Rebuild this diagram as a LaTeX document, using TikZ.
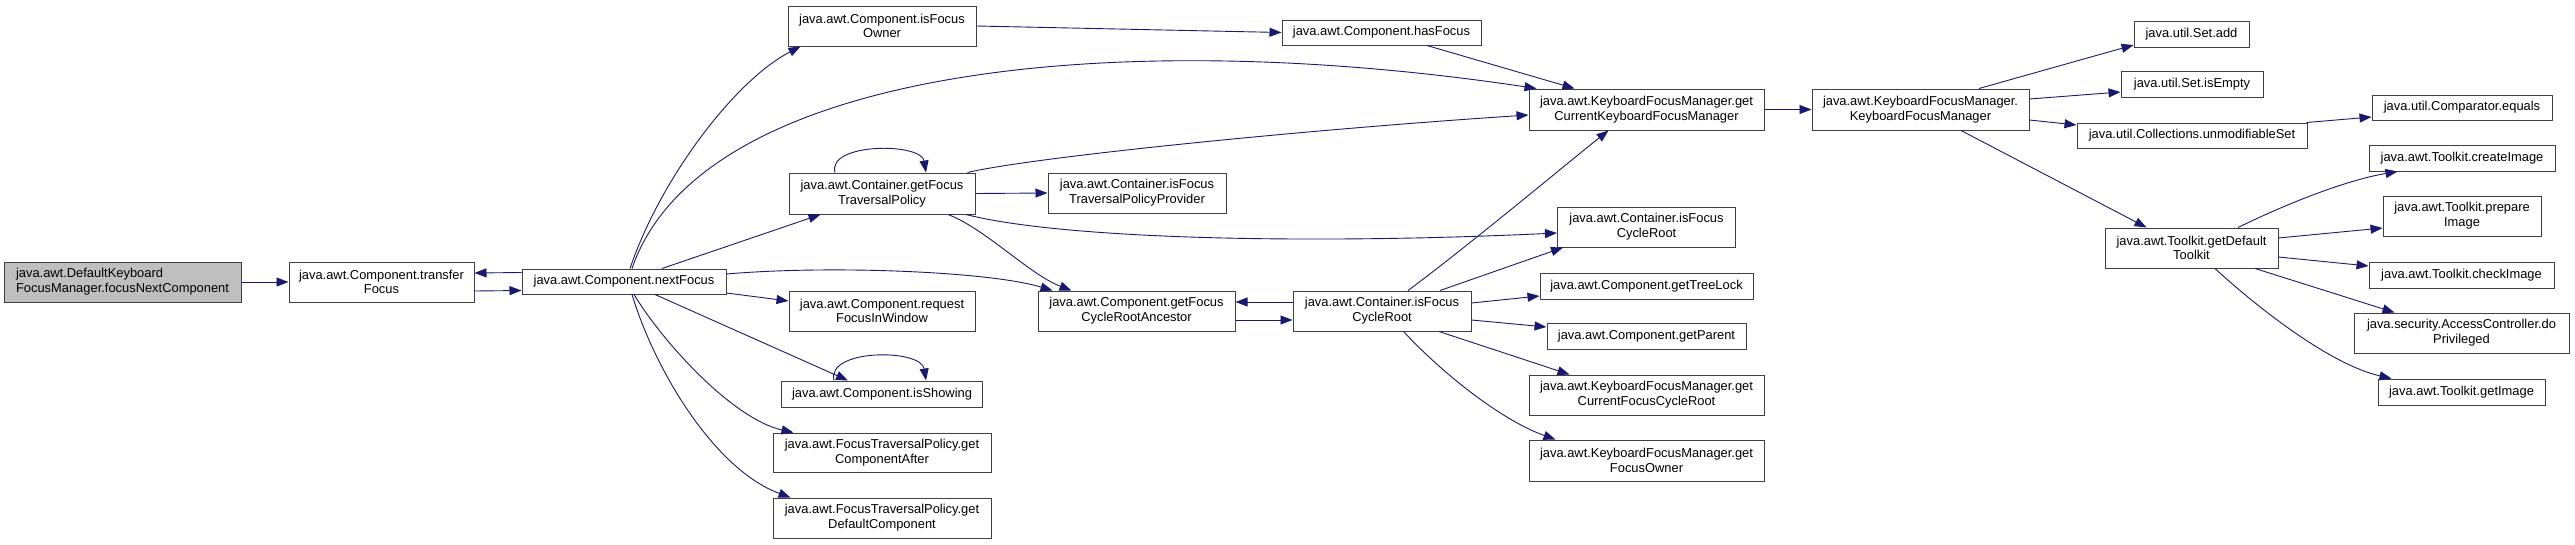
\documentclass[tikz,border=0pt]{standalone}
\usepackage{fontspec}
\setmainfont{Liberation Sans}
\usetikzlibrary{arrows.meta}
\definecolor{edgeblue}{HTML}{191970}
\definecolor{boxgray}{HTML}{404040}
\definecolor{rootfill}{HTML}{BFBFBF}
\begin{document}
\begin{tikzpicture}[x=1pt,y=-1pt,
  fn/.style={draw=boxgray,fill=white,line width=1pt,inner sep=0pt,align=center,
    font=\fontsize{12.9}{14.7}\selectfont},
  root/.style={fn,fill=rootfill,align=left},
  call/.style={draw=edgeblue,line width=0.9pt,-{Triangle[length=12pt,width=9pt]}}]
\useasboundingbox (0,0) rectangle (2575,544);
\node[root,minimum width=237,minimum height=40] (focusNext) at (122.5,282) {java.awt.DefaultKeyboard\\FocusManager.focusNextComponent};
\node[fn,minimum width=185,minimum height=40] (transferFocus) at (381.5,282) {java.awt.Component.transfer\\Focus};
\node[fn,minimum width=204,minimum height=25] (nextFocus) at (624,281.5) {java.awt.Component.nextFocus};
\node[fn,minimum width=188,minimum height=40] (isFocusOwner) at (882,26) {java.awt.Component.isFocus\\Owner};
\node[fn,minimum width=186,minimum height=41] (getTravPolicy) at (882,193.5) {java.awt.Container.getFocus\\TraversalPolicy};
\node[fn,minimum width=186,minimum height=40] (requestFocus) at (882,311) {java.awt.Component.request\\FocusInWindow};
\node[fn,minimum width=201,minimum height=26] (isShowing) at (882,394) {java.awt.Component.isShowing};
\node[fn,minimum width=218,minimum height=39] (getCompAfter) at (882,452.5) {java.awt.FocusTraversalPolicy.get\\ComponentAfter};
\node[fn,minimum width=218,minimum height=40] (getDefaultComp) at (882,518) {java.awt.FocusTraversalPolicy.get\\DefaultComponent};
\node[fn,minimum width=199,minimum height=25] (hasFocus) at (1381.5,32.5) {java.awt.Component.hasFocus};
\node[fn,minimum width=178,minimum height=40] (isTravProvider) at (1137,193) {java.awt.Container.isFocus\\TraversalPolicyProvider};
\node[fn,minimum width=197,minimum height=40] (getRootAncestor) at (1136.5,311) {java.awt.Component.getFocus\\CycleRootAncestor};
\node[fn,minimum width=178,minimum height=40] (isCycleRoot) at (1382,311) {java.awt.Container.isFocus\\CycleRoot};
\node[fn,minimum width=235,minimum height=41] (getCurrentKFM) at (1646.5,109.5) {java.awt.KeyboardFocusManager.get\\CurrentKeyboardFocusManager};
\node[fn,minimum width=178,minimum height=40] (isCycleRootB) at (1646.5,227) {java.awt.Container.isFocus\\CycleRoot};
\node[fn,minimum width=213,minimum height=26] (getTreeLock) at (1646.5,286) {java.awt.Component.getTreeLock};
\node[fn,minimum width=199,minimum height=26] (getParent) at (1646.5,336) {java.awt.Component.getParent};
\node[fn,minimum width=235,minimum height=40] (getCurrentRoot) at (1646.5,395) {java.awt.KeyboardFocusManager.get\\CurrentFocusCycleRoot};
\node[fn,minimum width=235,minimum height=41] (getFocusOwner) at (1646.5,460.5) {java.awt.KeyboardFocusManager.get\\FocusOwner};
\node[fn,minimum width=217,minimum height=41] (kfmInit) at (1920.5,109.5) {java.awt.KeyboardFocusManager.\\KeyboardFocusManager};
\node[fn,minimum width=115,minimum height=26] (setAdd) at (2191.5,34) {java.util.Set.add};
\node[fn,minimum width=142,minimum height=26] (setIsEmpty) at (2192,84) {java.util.Set.isEmpty};
\node[fn,minimum width=230,minimum height=25] (unmodSet) at (2192,135.5) {java.util.Collections.unmodifiableSet};
\node[fn,minimum width=180,minimum height=25] (compEquals) at (2462,107.5) {java.util.Comparator.equals};
\node[fn,minimum width=186,minimum height=26] (createImage) at (2462,158) {java.awt.Toolkit.createImage};
\node[fn,minimum width=158,minimum height=40] (prepareImage) at (2462,216) {java.awt.Toolkit.prepare\\Image};
\node[fn,minimum width=173,minimum height=40] (getToolkit) at (2191.5,248) {java.awt.Toolkit.getDefault\\Toolkit};
\node[fn,minimum width=185,minimum height=26] (checkImage) at (2461.5,275) {java.awt.Toolkit.checkImage};
\node[fn,minimum width=215,minimum height=40] (doPrivileged) at (2461.5,333) {java.security.AccessController.do\\Privileged};
\node[fn,minimum width=167,minimum height=26] (getImage) at (2461.5,392) {java.awt.Toolkit.getImage};
\draw[call] (focusNext) -- (transferFocus);
\draw[call] ([yshift=9pt]nextFocus.west) -- ([yshift=9pt]transferFocus.east);
\draw[call] ([yshift=-9pt]transferFocus.east) -- ([yshift=-9pt]nextFocus.west);
\draw[call] ([xshift=6pt]nextFocus.north) .. controls +(30,-89) and +(-66,34) .. ([xshift=13pt]isFocusOwner.south west);
\draw[call] ([xshift=8pt]nextFocus.north) .. controls +(68,-199) and +(-427,-64) .. ([xshift=8pt]getCurrentKFM.north west);
\draw[call] ([xshift=38pt]nextFocus.north) -- ([xshift=32pt]getTravPolicy.south west);
\draw[call] ([yshift=7.5pt]nextFocus.east) .. controls +(104,-9) and +(-63,-19) .. ([xshift=15pt]getRootAncestor.north west);
\draw[call] ([yshift=-11.5pt]nextFocus.east) -- ([yshift=10pt]requestFocus.west);
\draw[call] ([xshift=31pt]nextFocus.south) -- ([xshift=67pt]isShowing.north west);
\draw[call] ([xshift=10pt]nextFocus.south) .. controls +(31,51) and +(-59,-13) .. ([xshift=21pt]getCompAfter.north west);
\draw[call] ([xshift=8pt]nextFocus.south) .. controls +(23,76) and +(-76,-28) .. ([xshift=18pt]getDefaultComp.north west);
\draw[call] (isFocusOwner.east) -- (hasFocus.west);
\draw[call] ([xshift=45.5pt]hasFocus.south) -- ([xshift=46pt]getCurrentKFM.north west);
\draw[call] ([xshift=-47pt]getTravPolicy.north) .. controls +(-8,-30) and +(-5,-30) .. ([xshift=44pt]getTravPolicy.north);
\draw[call] ([xshift=85.5pt]getTravPolicy.north) .. controls +(63,-15) and +(-229,15) .. ([yshift=-5.5pt]getCurrentKFM.west);
\draw[call] (getTravPolicy.east) -- (isTravProvider.west);
\draw[call] ([xshift=84pt]getTravPolicy.south) .. controls +(94,24) and +(-257,12) .. ([yshift=-6pt]isCycleRootB.west);
\draw[call] ([xshift=66pt]getTravPolicy.south) .. controls +(37,14) and +(-42,-16) .. ([xshift=34pt]getRootAncestor.north west);
\draw[call] ([xshift=-48pt]isShowing.north) .. controls +(-8,-32) and +(-5,-32) .. ([xshift=44pt]isShowing.north);
\draw[call] ([yshift=9pt]isCycleRoot.west) -- ([yshift=9pt]getRootAncestor.east);
\draw[call] ([yshift=-9pt]getRootAncestor.east) -- ([yshift=-9pt]isCycleRoot.west);
\draw[call] ([xshift=26pt]isCycleRoot.north) .. controls +(62,-46) and +(-38,30) .. ([xshift=80pt]getCurrentKFM.south west);
\draw[call] ([xshift=58pt]isCycleRoot.north) -- ([xshift=6pt]isCycleRootB.south west);
\draw[call] ([yshift=8pt]isCycleRoot.east) -- ([yshift=-10pt]getTreeLock.west);
\draw[call] ([yshift=-9pt]isCycleRoot.east) -- ([yshift=9pt]getParent.west);
\draw[call] ([xshift=57pt]isCycleRoot.south) -- ([xshift=41pt]getCurrentRoot.north west);
\draw[call] ([xshift=21.5pt]isCycleRoot.south) .. controls +(36,39) and +(-56,-20) .. ([xshift=27pt]getFocusOwner.north west);
\draw[call] (getCurrentKFM) -- (kfmInit);
\draw[call] ([xshift=58.5pt]kfmInit.north) -- ([yshift=-11pt]setAdd.west);
\draw[call] ([yshift=10.5pt]kfmInit.east) -- ([yshift=-8pt]setIsEmpty.west);
\draw[call] ([yshift=-10.5pt]kfmInit.east) -- ([yshift=10.5pt]unmodSet.west);
\draw[call] ([xshift=40.5pt]kfmInit.south) -- ([xshift=42pt]getToolkit.north west);
\draw[call] ([xshift=-1pt]unmodSet.north east) -- ([yshift=-9.5pt]compEquals.west);
\draw[call] ([xshift=46.5pt]getToolkit.north) .. controls +(47,-23) and +(-53,9) .. ([xshift=29pt]createImage.south west);
\draw[call] ([yshift=10pt]getToolkit.east) -- ([yshift=-12pt]prepareImage.west);
\draw[call] ([yshift=-9pt]getToolkit.east) -- ([yshift=9pt]checkImage.west);
\draw[call] ([xshift=63.5pt]getToolkit.south) -- ([xshift=41pt]doPrivileged.north west);
\draw[call] ([xshift=23.5pt]getToolkit.south) .. controls +(40,37) and +(-62,-14) .. ([xshift=14pt]getImage.north west);
\end{tikzpicture}
\end{document}
